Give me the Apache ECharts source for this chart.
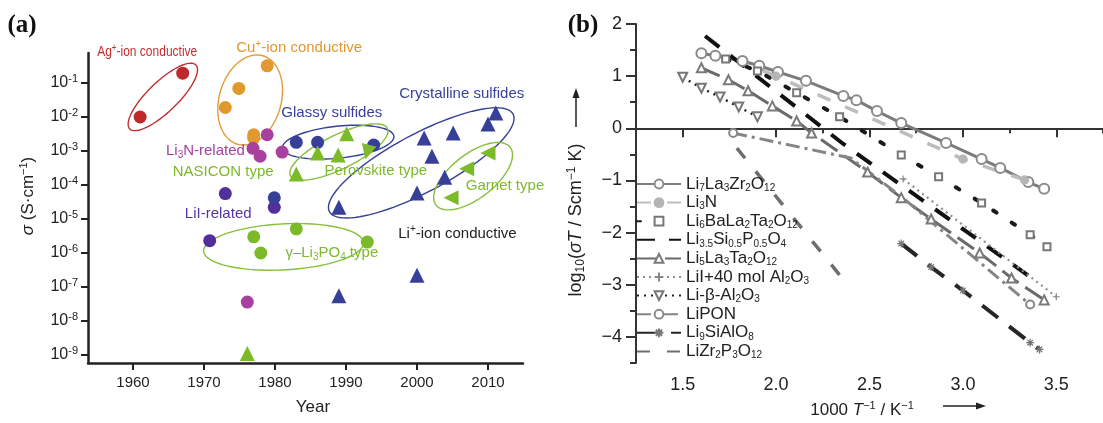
<!DOCTYPE html>
<html>
<head>
<meta charset="utf-8">
<script src="https://cdn.jsdelivr.net/npm/echarts@6/dist/echarts.min.js"></script>
<style>
  html, body { margin: 0; padding: 0; background: #fff; }
  #chart { width: 1103px; height: 423px; }
</style>
</head>
<body>
<div id="chart"></div>
<script>
// ---------- panel (a): room-temperature conductivity (S/cm) vs year ----------
const agYear = [1961.0, 1967.0]
const agSigma = [1.0e-2, 0.195]
const cuYear = [1978.9, 1974.9, 1973.0, 1977.0, 1977.0]
const cuSigma = [0.32, 0.069, 0.019, 3.0e-3, 2.4e-3]
const li3nYear = [1978.9, 1976.9, 1977.9, 1981.0, 1976.1]
const li3nSigma = [3.0e-3, 1.2e-3, 7.0e-4, 9.3e-4, 3.6e-8]
const liiYear = [1973.0, 1979.9, 1970.8]
const liiSigma = [5.6e-5, 2.2e-5, 2.3e-6]
const sulfCircYear = [1983.0, 1986.0, 1993.9, 1979.9]
const sulfCircSigma = [1.8e-3, 1.8e-3, 1.5e-3, 4.2e-5]
const gammaYear = [1977.0, 1978.0, 1983.0, 1993.0]
const gammaSigma = [3.0e-6, 1.0e-6, 5.1e-6, 2.1e-6]
const oxideTriYear = [1990.1, 1986.0, 1988.9, 1983.0, 1976.1]
const oxideTriSigma = [3.2e-3, 8.8e-4, 7.6e-4, 2.1e-4, 1.1e-9]
const perovDownYear = [1993.0]
const perovDownSigma = [9.3e-4]
const garnetYear = [2010.0, 2007.0, 2004.8]
const garnetSigma = [8.8e-4, 3.0e-4, 4.2e-5]
const crystYear = [2011.1, 2010.0, 2005.1, 2001.0, 2002.1, 2003.9, 2000.0, 1989.0, 2000.0, 1989.0]
const crystSigma = [1.3e-2, 6.2e-3, 3.4e-3, 2.4e-3, 7.0e-4, 1.7e-4, 5.8e-5, 2.2e-5, 2.2e-7, 5.5e-8]
const yearTicks = [1960, 1970, 1980, 1990, 2000, 2010]
const decadeTicks = [-9, -8, -7, -6, -5, -4, -3, -2, -1]

// ---------- panel (b): Arrhenius plot, x = 1000/T, y = log10(sigma*T) ----------
const llzoX = [1.60, 1.675, 1.82, 1.91, 2.01, 2.16, 2.36, 2.43, 2.54, 2.67, 2.91, 3.10, 3.20, 3.35, 3.435]
const llzoY = [1.44, 1.39, 1.29, 1.20, 1.08, 0.91, 0.62, 0.54, 0.33, 0.10, -0.28, -0.59, -0.76, -1.03, -1.16]
const li3nX = [1.78, 2.00, 3.00, 3.33]
const li3nY = [1.33, 1.00, -0.59, -0.99]
const libaX = [1.73, 1.90, 2.11, 2.34, 2.67, 2.87, 3.10, 3.36, 3.45]
const libaY = [1.33, 1.10, 0.68, 0.22, -0.51, -0.93, -1.43, -2.04, -2.27]
const lisipX = [1.62, 2.36, 3.38]
const lisipY = [1.77, -0.30, -2.90]
const lltaX = [1.60, 1.745, 1.85, 1.98, 2.11, 2.19, 2.49, 2.67, 2.83, 3.09, 3.26, 3.435]
const lltaY = [1.16, 0.93, 0.72, 0.43, 0.14, -0.09, -0.84, -1.33, -1.74, -2.39, -2.87, -3.29]
const liiAlX = [2.68, 3.50]
const liiAlY = [-0.97, -3.23]
const betaX = [1.50, 1.60, 1.70, 1.80, 1.90]
const betaY = [0.98, 0.77, 0.60, 0.41, 0.22]
const liponX = [1.77, 2.40, 2.67, 3.36]
const liponY = [-0.09, -0.57, -1.31, -3.38]
const lisialX = [2.67, 2.83, 3.00, 3.36, 3.41]
const lisialY = [-2.21, -2.66, -3.11, -4.11, -4.24]
const lizrX = [1.79, 2.36]
const lizrY = [-0.38, -2.90]
const invTTicks = [1.5, 2.0, 2.5, 3.0, 3.5]
const logTicks = [-4, -3, -2, -1, 0, 1, 2]

const FONT = '"Liberation Sans", Arial, Helvetica, sans-serif'
const GREEN = '#7cba2a'
const BLUE = '#373f98'

// group outlines of panel (a): centre in data units, half axes in px, tilt in degrees
const rings = [
  { year: 1964.2, logS: -1.41, a: 46, b: 15, tilt: 44, color: '#bf3030' },
  { year: 1976.5, logS: -1.50, a: 46, b: 31, tilt: 74, color: '#e39b3a' },
  { year: 1988.9, logS: -2.74, a: 56, b: 16, tilt: 6, color: BLUE },
  { year: 1989.0, logS: -3.03, a: 54, b: 17, tilt: 26, color: '#86bf3a' },
  { year: 2000.6, logS: -3.35, a: 104, b: 29, tilt: 28, color: BLUE },
  { year: 2007.9, logS: -3.74, a: 47, b: 22, tilt: 38, color: '#86bf3a' },
  { year: 1981.2, logS: -5.82, a: 80, b: 23, tilt: 3, color: '#86bf3a' }
]
// group captions of panel (a), anchored in data units
const captions = [
  { year: 1962.0, logS: -0.09, text: 'Ag{sup|+}-ion conductive', color: '#bf2f2f', squeeze: 0.8 },
  { year: 1983.4, logS: 0.03, text: 'Cu{sup|+}-ion conductive', color: '#e0982f' },
  { year: 1988.0, logS: -1.87, text: 'Glassy sulfides', color: BLUE },
  { year: 2006.3, logS: -1.32, text: 'Crystalline sulfides', color: BLUE },
  { year: 1970.2, logS: -3.01, text: 'Li{sub|3}N-related', color: '#a63f9f' },
  { year: 1972.7, logS: -3.60, text: 'NASICON type', color: GREEN },
  { year: 1994.2, logS: -3.57, text: 'Perovskite type', color: GREEN },
  { year: 2012.4, logS: -4.04, text: 'Garnet type', color: GREEN },
  { year: 1972.0, logS: -4.84, text: 'LiI-related', color: '#5634a3' },
  { year: 1988.0, logS: -6.01, text: 'γ–Li{sub|3}PO{sub|4} type', color: GREEN },
  { year: 2005.7, logS: -5.43, text: 'Li{sup|+}-ion conductive', color: '#222' }
]

const richSmall = {
  sup: { fontSize: 10, lineHeight: 9, verticalAlign: 'top', fontFamily: FONT },
  sub: { fontSize: 10, lineHeight: 9, verticalAlign: 'bottom', fontFamily: FONT }
}

const pairs = (xs, ys, f) => xs.map((x, i) => [x, f ? f(ys[i]) : ys[i]])
const lg = (v) => Math.log10(v)

function scatterA(name, xs, ys, color, symbol, size, rotate) {
  return {
    name, type: 'scatter', xAxisIndex: 0, yAxisIndex: 0,
    data: pairs(xs, ys, lg),
    symbol, symbolSize: size, symbolRotate: rotate || 0,
    itemStyle: { color, opacity: 1 }, z: 3
  }
}

// line series of panel (b); markerAt = indices that carry a symbol (null = all)
function lineB(name, xs, ys, color, dash, width, symbol, symSize, symColor, markerAt, extra) {
  const bare = symbol === 'none'
  const data = xs.map((x, i) => {
    const show = !bare && (markerAt == null || markerAt.indexOf(i) >= 0)
    return show ? { value: [x, ys[i]] } : { value: [x, ys[i]], symbol: 'none' }
  })
  return Object.assign({
    name, type: 'line', xAxisIndex: 1, yAxisIndex: 1, data,
    symbol: bare ? 'circle' : symbol, symbolSize: symSize,
    color,
    lineStyle: { color, width, type: dash, cap: 'butt' },
    itemStyle: bare
      ? { color: 'rgba(0,0,0,0)', borderColor: 'rgba(0,0,0,0)', borderWidth: 0 }
      : { color: symColor, borderColor: symColor, borderWidth: 1.2 },
    emphasis: { disabled: true }, animation: false, z: 3
  }, extra || {})
}

const namesB = ['Li7La3Zr2O12', 'Li3N', 'Li6BaLa2Ta2O12', 'Li3.5Si0.5P0.5O4', 'Li5La3Ta2O12',
  'LiI+40 mol Al2O3', 'Li-β-Al2O3', 'LiPON', 'Li9SiAlO8', 'LiZr2P3O12']
const namesBRich = {
  'Li7La3Zr2O12': 'Li{s|7}La{s|3}Zr{s|2}O{s|12}',
  'Li3N': 'Li{s|3}N',
  'Li6BaLa2Ta2O12': 'Li{s|6}BaLa{s|2}Ta{s|2}O{s|12}',
  'Li3.5Si0.5P0.5O4': 'Li{s|3.5}Si{s|0.5}P{s|0.5}O{s|4}',
  'Li5La3Ta2O12': 'Li{s|5}La{s|3}Ta{s|2}O{s|12}',
  'LiI+40 mol Al2O3': 'LiI+40 mol Al{s|2}O{s|3}',
  'Li-β-Al2O3': 'Li-β-Al{s|2}O{s|3}',
  'LiPON': 'LiPON',
  'Li9SiAlO8': 'Li{s|9}SiAlO{s|8}',
  'LiZr2P3O12': 'LiZr{s|2}P{s|3}O{s|12}'
}

const plusPath = 'path://M5,0L5,10M0,5L10,5'
const starPath = 'path://M5,0L5,10M0,5L10,5M1.5,1.5L8.5,8.5M8.5,1.5L1.5,8.5'

function ringRender(params, api) {
  const r = rings[params.dataIndex]
  const c = api.coord([api.value(0), api.value(1)])
  const t = -r.tilt * Math.PI / 180
  const pts = []
  for (let k = 0; k <= 90; k++) {
    const th = k / 90 * Math.PI * 2
    const ex = r.a * Math.cos(th), ey = r.b * Math.sin(th)
    pts.push([c[0] + ex * Math.cos(t) - ey * Math.sin(t), c[1] + ex * Math.sin(t) + ey * Math.cos(t)])
  }
  return { type: 'polyline', shape: { points: pts }, style: { stroke: r.color, fill: null, lineWidth: 1.4 } }
}

function captionRender(params, api) {
  const cap = captions[params.dataIndex]
  const c = api.coord([api.value(0), api.value(1)])
  return {
    type: 'text', x: c[0], y: c[1], scaleX: cap.squeeze || 1,
    style: {
      text: cap.text, fill: cap.color, fontSize: 15, fontFamily: FONT,
      lineHeight: 18, align: 'center', verticalAlign: 'middle', rich: richSmall
    }
  }
}

const axisTextB = { color: '#222', fontSize: 18, fontFamily: FONT }

const option = {
  backgroundColor: '#fff',
  animation: false,
  grid: [
    { left: 88, top: 53, width: 435, height: 310 },
    { left: 636, top: 24, width: 471.5, height: 339 }
  ],
  xAxis: [
    {
      gridIndex: 0, type: 'value', min: 1953.66, max: 2014.93, position: 'bottom',
      axisLine: { lineStyle: { color: '#222', width: 2.5 } },
      axisTick: { customValues: yearTicks, length: 7, lineStyle: { color: '#222', width: 2 } },
      axisLabel: { customValues: yearTicks, margin: 12, color: '#222', fontSize: 15, fontFamily: FONT, formatter: (v) => String(v) },
      splitLine: { show: false }
    },
    {
      gridIndex: 1, type: 'value', min: 1.25, max: 3.75, position: 'bottom',
      axisLine: { lineStyle: { color: '#333', width: 2 } },
      axisTick: { customValues: invTTicks, length: 9, lineStyle: { color: '#333', width: 2 } },
      axisLabel: Object.assign({ customValues: invTTicks, margin: 13, formatter: (v) => v.toFixed(1) }, axisTextB),
      splitLine: { show: false }
    },
    {
      gridIndex: 1, type: 'value', min: 1.25, max: 3.75, interval: 0.25, position: 'bottom',
      axisLine: { show: false },
      axisTick: { length: 5, lineStyle: { color: '#333', width: 2 } },
      axisLabel: { show: false }, splitLine: { show: false }
    }
  ],
  yAxis: [
    {
      gridIndex: 0, type: 'value', min: -9.235, max: -0.118, position: 'left',
      axisLine: { show: true, lineStyle: { color: '#222', width: 2.5 } },
      axisTick: { show: true, customValues: decadeTicks, length: 7, lineStyle: { color: '#222', width: 2 } },
      axisLabel: {
        customValues: decadeTicks, margin: 10, color: '#222', fontSize: 16, fontFamily: FONT, lineHeight: 20,
        formatter: (v) => '10{sup|' + v + '}',
        rich: { sup: { fontSize: 11, lineHeight: 10, verticalAlign: 'top', color: '#222', fontFamily: FONT } }
      },
      splitLine: { show: false }
    },
    {
      gridIndex: 1, type: 'value', min: -4.5, max: 2, position: 'left',
      axisLine: { show: true, lineStyle: { color: '#333', width: 2 } },
      axisTick: { show: true, customValues: logTicks, length: 10, lineStyle: { color: '#333', width: 2 } },
      axisLabel: Object.assign({
        customValues: logTicks, margin: 14,
        formatter: (v) => (v < 0 ? '\u2212' + Math.abs(v) : String(v))
      }, axisTextB),
      splitLine: { show: false }
    },
    {
      gridIndex: 1, type: 'value', min: -4.5, max: 2, interval: 0.5, position: 'left',
      axisLine: { show: false },
      axisTick: { show: true, length: 6, lineStyle: { color: '#333', width: 2 } },
      axisLabel: { show: false }, splitLine: { show: false }
    }
  ],
  legend: {
    data: namesB, orient: 'vertical', left: 631, top: 170,
    itemWidth: 44, itemHeight: 11, itemGap: 0.6, selectedMode: false,
    textStyle: {
      color: '#222', fontSize: 17, fontFamily: FONT, lineHeight: 18,
      rich: { s: { fontSize: 10, lineHeight: 6, verticalAlign: 'bottom', color: '#222', fontFamily: FONT } }
    },
    formatter: (name) => namesBRich[name]
  },
  graphic: [
    { type: 'text', x: 22, y: 26, style: { text: '(a)', font: 'bold 25px "Liberation Serif", "Times New Roman", serif', fill: '#111', align: 'center', verticalAlign: 'middle' } },
    { type: 'text', x: 583, y: 26, style: { text: '(b)', font: 'bold 25px "Liberation Serif", "Times New Roman", serif', fill: '#111', align: 'center', verticalAlign: 'middle' } },
    {
      type: 'text', x: 28, y: 196, rotation: Math.PI / 2,
      style: {
        text: '{i|σ} (S·cm{sup|−1})', fill: '#222', fontSize: 17, fontFamily: FONT, lineHeight: 20,
        align: 'center', verticalAlign: 'middle',
        rich: { i: { fontStyle: 'italic', fontSize: 17, fontFamily: FONT }, sup: { fontSize: 11, lineHeight: 10, verticalAlign: 'top', fontFamily: FONT } }
      }
    },
    { type: 'text', x: 313, y: 407, style: { text: 'Year', fill: '#222', fontSize: 17, fontFamily: FONT, align: 'center', verticalAlign: 'middle' } },
    {
      type: 'text', x: 576, y: 220, rotation: Math.PI / 2,
      style: {
        text: 'log{sub|10}({i|σT} / Scm{sup|−1} K)', fill: '#222', fontSize: 18, fontFamily: FONT, lineHeight: 21,
        align: 'center', verticalAlign: 'middle',
        rich: {
          i: { fontStyle: 'italic', fontSize: 18, fontFamily: FONT },
          sup: { fontSize: 12, lineHeight: 10, verticalAlign: 'top', fontFamily: FONT },
          sub: { fontSize: 12, lineHeight: 10, verticalAlign: 'bottom', fontFamily: FONT }
        }
      }
    },
    { type: 'line', shape: { x1: 576, y1: 127, x2: 576, y2: 96 }, style: { stroke: '#222', lineWidth: 1.5 } },
    { type: 'polygon', shape: { points: [[576, 88], [572.5, 98], [579.5, 98]] }, style: { fill: '#222' } },
    {
      type: 'text', x: 862, y: 410,
      style: {
        text: '1000 {i|T}{sup|−1} / K{sup|−1}', fill: '#222', fontSize: 17, fontFamily: FONT, lineHeight: 20,
        align: 'center', verticalAlign: 'middle',
        rich: {
          i: { fontStyle: 'italic', fontSize: 17, fontFamily: FONT },
          sup: { fontSize: 11, lineHeight: 10, verticalAlign: 'top', fontFamily: FONT }
        }
      }
    },
    { type: 'line', shape: { x1: 943, y1: 406, x2: 977, y2: 406 }, style: { stroke: '#222', lineWidth: 1.5 } },
    { type: 'polygon', shape: { points: [[986, 406], [976, 402.5], [976, 409.5]] }, style: { fill: '#222' } }
  ],
  series: [
    {
      type: 'custom', name: 'rings', xAxisIndex: 0, yAxisIndex: 0, clip: false, z: 2,
      data: rings.map((r) => [r.year, r.logS]), renderItem: ringRender, silent: true
    },
    scatterA('Ag', agYear, agSigma, '#bd2a2b', 'circle', 13),
    scatterA('Cu', cuYear, cuSigma, '#e0982f', 'circle', 13),
    scatterA('Li3N-rel', li3nYear, li3nSigma, '#a8409f', 'circle', 13),
    scatterA('LiI-rel', liiYear, liiSigma, '#51309d', 'circle', 13),
    scatterA('Sulfide circles', sulfCircYear, sulfCircSigma, BLUE, 'circle', 13),
    scatterA('gamma', gammaYear, gammaSigma, GREEN, 'circle', 13),
    scatterA('Oxide triangles', oxideTriYear, oxideTriSigma, GREEN, 'triangle', 15),
    scatterA('Perovskite down', perovDownYear, perovDownSigma, GREEN, 'triangle', 15, 165),
    scatterA('Garnet', garnetYear, garnetSigma, GREEN, 'triangle', 15, 90),
    scatterA('Crystalline', crystYear, crystSigma, BLUE, 'triangle', 15),
    {
      type: 'custom', name: 'captions', xAxisIndex: 0, yAxisIndex: 0, clip: false, z: 4,
      data: captions.map((c) => [c.year, c.logS]), renderItem: captionRender, silent: true
    },

    lineB('Li7La3Zr2O12', llzoX, llzoY, '#7c7c7c', 'solid', 3, 'emptyCircle', 10, '#8a8a8a', null),
    lineB('Li3N', li3nX, li3nY, '#bdbdbd', [14, 16], 3.5, 'circle', 8, '#b5b5b5', [1, 2, 3]),
    lineB('Li6BaLa2Ta2O12', libaX, libaY, '#1a1a1a', [4, 18], 4, 'emptyRect', 7, '#777', null,
      { lineStyle: { color: '#1a1a1a', width: 4, type: [4, 18], cap: 'round' } }),
    lineB('Li3.5Si0.5P0.5O4', lisipX, lisipY, '#111', [18, 14], 4, 'none', 0, '#111', null),
    lineB('Li5La3Ta2O12', lltaX, lltaY, '#6a6a6a', [20, 8], 3, 'emptyTriangle', 9, '#7a7a7a', null),
    lineB('LiI+40 mol Al2O3', liiAlX, liiAlY, '#8f8f8f', [2, 4], 2.2, plusPath, 7, '#8f8f8f', null,
      { itemStyle: { color: 'none', borderColor: '#888', borderWidth: 1.2 } }),
    lineB('Li-β-Al2O3', betaX, betaY, '#222', [2, 5], 2.5, 'emptyTriangle', 9, '#777', null,
      { symbolRotate: 180 }),
    lineB('LiPON', liponX, liponY, '#858585', [14, 5, 3, 5], 3, 'emptyCircle', 8, '#888', [0, 3]),
    lineB('Li9SiAlO8', lisialX, lisialY, '#262626', [20, 14], 4, starPath, 8, '#777', null,
      { itemStyle: { color: 'none', borderColor: '#777', borderWidth: 1.2 } }),
    lineB('LiZr2P3O12', lizrX, lizrY, '#6e6e6e', [13, 17], 3.5, 'none', 0, '#6e6e6e', null)
  ]
}

const chart = echarts.init(document.getElementById('chart'), null, { renderer: 'canvas' })
chart.setOption(option)
</script>
</body>
</html>
